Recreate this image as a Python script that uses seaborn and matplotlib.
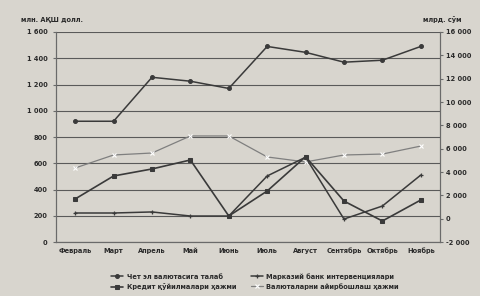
import numpy as np
import pandas as pd
import matplotlib
matplotlib.use("Agg")
import matplotlib.pyplot as plt
import seaborn as sns

# data
months = ["Февраль", "Март", "Апрель", "Май", "Июнь",
          "Июль", "Август", "Сентябрь", "Октябрь", "Ноябрь"]
demand = [920, 920, 1255, 1225, 1170, 1490, 1445, 1370, 1385, 1490]      # left axis
interventions = [221, 221, 229, 198, 198, 503, 646, 175, 274, 510]      # left axis
exchange = [564, 663, 678, 808, 808, 648, 610, 663, 670, 731]           # left axis
credit = [1690, 3660, 4260, 5030, 230, 2370, 5310, 1510, -200, 1600]    # right axis

lbl_demand = "Чет эл валютасига талаб"
lbl_credit = "Кредит қўйилмалари ҳажми"
lbl_interv = "Марказий банк интервенциялари"
lbl_exch = "Валюталарни айирбошлаш ҳажми"

left_ticks = list(range(0, 1601, 200))
right_ticks = list(range(-2000, 16001, 2000))

df = pd.DataFrame({"month": months, "x": range(len(months)),
                   "demand": demand, "interv": interventions,
                   "exch": exchange, "credit": credit})

sns.set_style("white")
plt.rcParams["font.family"] = ["DejaVu Sans"]
bg = "#d8d5ce"

fig = plt.figure(figsize=(4.81, 2.96), dpi=100, facecolor=bg)
ax = fig.add_axes([0.1164, 0.1824, 0.7983, 0.7095], facecolor=bg)
ax2 = ax.twinx()

dark = "#3a3a3a"
sns.lineplot(data=df, x="x", y="exch", ax=ax, color="#7f7f7f", lw=0.9,
             marker="x", markersize=2.5, mew=0.8, label=lbl_exch, legend=False)
sns.lineplot(data=df, x="x", y="demand", ax=ax, color=dark, lw=1.1,
             marker="o", markersize=2.8, mec=dark, label=lbl_demand, legend=False)
sns.lineplot(data=df, x="x", y="interv", ax=ax, color=dark, lw=1.1,
             marker="+", markersize=3.5, mew=0.9, mec=dark, label=lbl_interv, legend=False)
sns.lineplot(data=df, x="x", y="credit", ax=ax2, color=dark, lw=1.2,
             marker="s", markersize=3.2, mec=dark, label=lbl_credit, legend=False)

ax.set_xlim(-0.5, len(months) - 0.5)
ax.set_ylim(0, 1600)
ax2.set_ylim(-2000, 16000)
ax.set_yticks(left_ticks)
ax.set_yticklabels([f"{v:,}".replace(",", " ") for v in left_ticks])
ax2.set_yticks(right_ticks)
ax2.set_yticklabels([f"{v:,}".replace(",", " ") for v in right_ticks])
ax.set_xticks(range(len(months)))
ax.set_xticklabels(months)
ax.set_xticks(np.arange(-0.5, len(months), 1), minor=True)
ax.set_xlabel("")
ax.set_ylabel("")
ax2.set_ylabel("")

ax.grid(axis="y", color="#5a5a5a", lw=0.8)
ax.set_axisbelow(True)
for a in (ax, ax2):
    a.spines["top"].set_visible(False)
    for s in ("left", "right", "bottom"):
        a.spines[s].set_color("#6a6a6a")
        a.spines[s].set_linewidth(0.8)
ax.tick_params(axis="x", which="major", length=0, labelsize=4.8, pad=4)
ax.tick_params(axis="x", which="minor", length=2, color="#6a6a6a")
ax.tick_params(axis="y", length=2, labelsize=4.8, pad=4, color="#6a6a6a")
ax2.tick_params(axis="y", length=2, labelsize=4.8, pad=2, color="#6a6a6a")
for t in ax.get_xticklabels() + ax.get_yticklabels() + ax2.get_yticklabels():
    t.set_fontweight("bold")
    t.set_color("#2a2a2a")

fig.text(0.043, 0.925, "млн. АҚШ долл.", fontsize=4.8, fontweight="bold", color="#2a2a2a")
fig.text(0.88, 0.925, "млрд. сўм", fontsize=4.8, fontweight="bold", color="#2a2a2a")

h1, l1 = ax.get_legend_handles_labels()
h2, l2 = ax2.get_legend_handles_labels()
hd = dict(zip(l1 + l2, h1 + h2))
order = [lbl_demand, lbl_credit, lbl_interv, lbl_exch]
leg = fig.legend([hd[k] for k in order], order, ncol=2, loc="lower center",
                 bbox_to_anchor=(0.53, 0.0), frameon=False,
                 prop={"size": 4.8, "weight": "bold"},
                 columnspacing=2.2, handlelength=1.8, handletextpad=0.5,
                 labelspacing=0.5)
for t in leg.get_texts():
    t.set_color("#2a2a2a")

fig.savefig("out.png", dpi=100, facecolor=bg)
